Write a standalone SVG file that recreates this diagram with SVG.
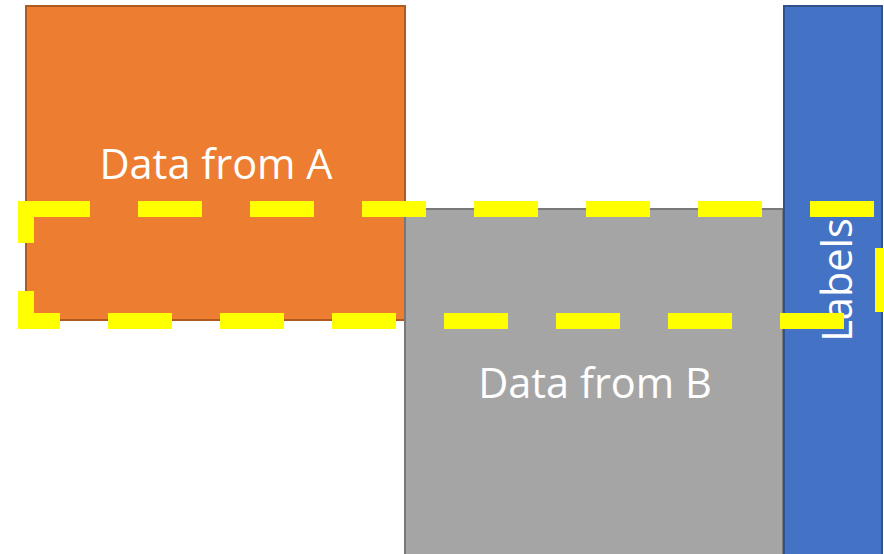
<svg xmlns="http://www.w3.org/2000/svg" width="884" height="554" viewBox="0 0 884 554">
  <style>
    .lbl { font-family: "Open Sans", "Liberation Sans", sans-serif; font-size: 41.5px; fill: #FFFFFF; text-anchor: middle; }
    .box { stroke-width: 2; }
  </style>
  <rect width="884" height="554" fill="#FFFFFF"/>
  <g id="node-a">
    <rect class="box" x="26" y="6" width="379" height="314" fill="#ED7D31" stroke="#AE5A21"/>
    <text class="lbl" x="216" y="179">Data from A</text>
  </g>
  <g id="node-b">
    <rect class="box" x="405" y="209" width="378" height="360" fill="#A5A5A5" stroke="#787878"/>
    <text class="lbl" x="595" y="398">Data from B</text>
  </g>
  <g id="node-labels">
    <rect class="box" x="784" y="6" width="98" height="560" fill="#4472C4" stroke="#2F528F"/>
    <text class="lbl" transform="translate(852 280) rotate(-90)" x="0" y="0">Labels</text>
  </g>
  <g id="connectors">
    <!-- dashed selection band across the three blocks -->
    <rect x="26" y="209" width="857" height="112" fill="none" stroke="#FFFF00" stroke-width="16" stroke-dasharray="64 48"/>
  </g>
</svg>
